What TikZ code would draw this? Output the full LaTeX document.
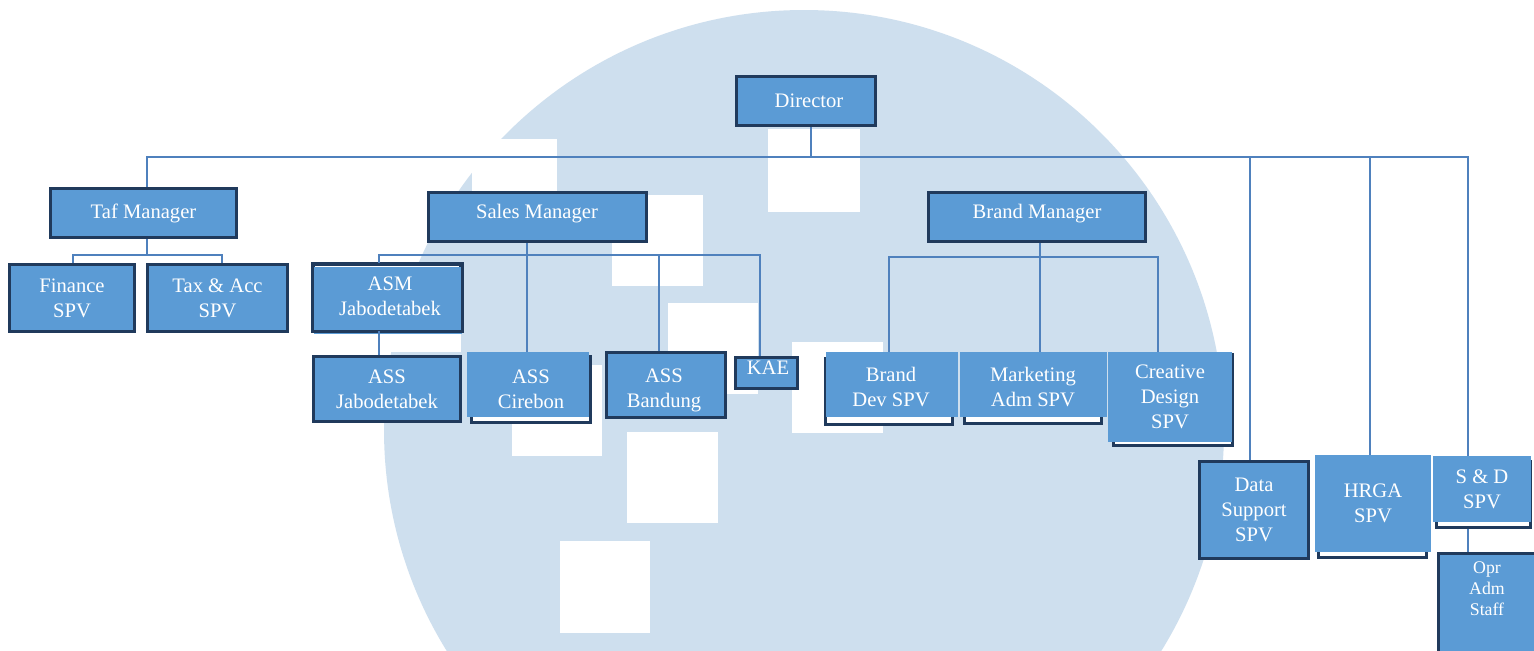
\documentclass[tikz,border=0pt]{standalone}
\usepackage{fontspec}
\setmainfont{Liberation Serif}
\definecolor{boxc}{RGB}{91,155,213}
\definecolor{bordc}{RGB}{32,58,92}
\definecolor{linec}{RGB}{79,129,189}
\definecolor{circc}{RGB}{206,223,238}
\newcommand\mainfs{\fontsize{10.3}{12.5}\selectfont}
\newcommand\smallfs{\fontsize{8.9}{10.5}\selectfont}
% bordered box: outer pixel extent x1 y1 x2 y2
\newcommand\bordbox[7]{\node[#6, minimum width={(#4-#2-3)*0.5pt}, minimum height={(#5-#3-3)*0.5pt}] (#1) at ({(#2+#4)/2},{(#3+#5)/2}) {#7};}
% borderless box
\newcommand\fillbox[7]{\node[#6, minimum width={(#4-#2)*0.5pt}, minimum height={(#5-#3)*0.5pt}] (#1) at ({(#2+#4)/2},{(#3+#5)/2}) {#7};}
\begin{document}
\begin{tikzpicture}[x=0.5pt,y=-0.5pt,
  bx/.style={draw=bordc, line width=1.5pt, fill=boxc, text=white, inner sep=0pt, align=center, font=\mainfs},
  bxw/.style={draw=bordc, line width=1.5pt, fill=white, inner sep=0pt},
  bxn/.style={fill=boxc, text=white, inner sep=0pt, align=center, font=\mainfs},
  frm/.style={draw=bordc, line width=1.5pt, fill=white, inner sep=0pt},
  txt/.style={text=white, inner sep=0pt, align=center, font=\mainfs},
  ln/.style={draw=linec, line width=1pt}]
\useasboundingbox (0,0) rectangle (1534,650);
\fill[white] (0,0) rectangle (1534,650);
% watermark
\begin{scope}
\clip (0,0) rectangle (1534,650);
\fill[circc] (804,430) circle[radius=210pt];
\fill[white] (768,129) rectangle (860,212);
\fill[white] (612,195) rectangle (703,286);
\fill[white] (472,139) rectangle (557,232);
\fill[white] (668,303) rectangle (758,394);
\fill[white] (792,342) rectangle (883,433);
\fill[white] (512,365) rectangle (602,456);
\fill[white] (627,432) rectangle (718,523);
\fill[white] (560,541) rectangle (650,633);
\fill[white] (386,300) rectangle (461,352);
\end{scope}
% shadow frames
\bordbox{cirf}{470}{355}{592}{424}{frm}{}
\bordbox{bdevf}{824}{357}{954}{426}{frm}{}
\bordbox{mktf}{963}{357}{1103}{425}{frm}{}
\bordbox{cref}{1112}{353}{1234}{447}{frm}{}
\bordbox{hrgaf}{1317}{460}{1428}{559}{frm}{}
\bordbox{sdf}{1435}{460}{1532}{529}{frm}{}
% boxes
\bordbox{dir}{735}{75}{877}{127}{bx}{}
\node[txt] (dirt) at (809,101) {Director};
\bordbox{taf}{49}{187}{238}{239}{bx}{Taf Manager}
\bordbox{fin}{8}{263}{136}{333}{bx}{Finance\\SPV}
\bordbox{tax}{146}{263}{289}{333}{bx}{Tax \& Acc\\SPV}
\bordbox{sales}{427}{191}{648}{243}{bx}{}
\node[txt] (salest) at (537,214) {Sales Manager};
\bordbox{brand}{927}{191}{1147}{243}{bx}{}
\node[txt] (brandt) at (1037,214) {Brand Manager};
\bordbox{asm}{312}{263}{462}{331}{bxw}{}
\fill[boxc] (313.5,266.5) rectangle (461.5,334);
\draw[bordc, line width=1.5pt] (asm.south west) rectangle (asm.north east);
\node[txt] (asmt) at (390,296) {ASM\\ Jabodetabek};
\bordbox{assj}{312}{355}{462}{423}{bx}{ASS\\ Jabodetabek}
\fillbox{cir}{467}{352}{589}{417}{bxn}{}
\node[txt] (cirt) at (531,389) {ASS\\Cirebon};
\bordbox{band}{605}{351}{727}{419}{bx}{}
\node[txt] (bandt) at (664,390) {ASS\\Bandung};
\bordbox{kae}{734}{356}{799}{390}{bx}{}
\node[txt] (kaet) at (768,368) {KAE};
\fillbox{bdev}{826}{352}{958}{417}{bxn}{}
\node[txt] (bdevt) at (891,387) {Brand\\Dev SPV};
\fillbox{mkt}{960}{352}{1107}{417}{bxn}{}
\node[txt] (mktt) at (1033,387) {Marketing\\Adm SPV};
\fillbox{cre}{1108}{352}{1232}{442}{bxn}{Creative\\Design\\SPV}
\bordbox{ds}{1198}{460}{1310}{560}{bx}{Data\\Support\\SPV}
\fillbox{hrga}{1315}{455}{1431}{552}{bxn}{HRGA\\SPV}
\fillbox{sd}{1433}{456}{1531}{522}{bxn}{S \& D\\SPV}
\bordbox{opr}{1437}{552}{1540}{654}{bx}{}
\node[txt, font=\smallfs] (oprt) at (1487,589) {Opr\\Adm\\Staff};
% connectors
\coordinate (busL) at (147,157);
\coordinate (busR) at (1468,157);
\coordinate (dsx) at (1250,157);
\coordinate (hrx) at (1370,157);
\coordinate (dirx) at (811,157);
\draw[ln] (dirx |- dir.south) -- (dirx);
\draw[ln] (busL |- taf.north) -- (busL) -- (busR) -- (busR |- sd.north);
\draw[ln] (dsx) -- (dsx |- ds.north);
\draw[ln] (hrx) -- (hrx |- hrga.north);
\draw[ln] (busR |- sdf.south) -- (busR |- opr.north);
% Taf group
\coordinate (tL) at (73,255);
\coordinate (tR) at (222,255);
\draw[ln] (busL |- taf.south) -- (busL |- tL);
\draw[ln] (tL |- fin.north) -- (tL) -- (tR) -- (tR |- tax.north);
% Sales group
\coordinate (sL) at (379,255);
\coordinate (sR) at (760,255);
\coordinate (sM) at (527,255);
\coordinate (sB) at (659,255);
\draw[ln] (sL |- asm.north) -- (sL) -- (sR) -- (sR |- kae.north);
\draw[ln] (sM |- sales.south) -- (sM |- cir.north);
\draw[ln] (sB) -- (sB |- band.north);
\draw[ln] (sL |- asm.south) -- (sL |- assj.north);
% Brand group
\coordinate (bL) at (889,257);
\coordinate (bR) at (1158,257);
\coordinate (bM) at (1040,257);
\draw[ln] (bL |- bdev.north) -- (bL) -- (bR) -- (bR |- cre.north);
\draw[ln] (bM |- brand.south) -- (bM |- mkt.north);
\end{tikzpicture}
\end{document}
